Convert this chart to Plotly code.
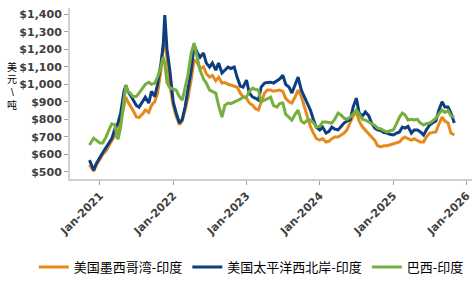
import plotly.graph_objects as go

dates = [
    "2020-11-10", "2020-12-01", "2020-12-15",
    "2021-01-01", "2021-01-15", "2021-02-01", "2021-02-15", "2021-03-01", "2021-03-15",
    "2021-04-01", "2021-04-15", "2021-05-01", "2021-05-10", "2021-05-20", "2021-06-01",
    "2021-06-15", "2021-07-01", "2021-07-15", "2021-08-01", "2021-08-15", "2021-09-01",
    "2021-09-15", "2021-10-01", "2021-10-15", "2021-11-01", "2021-11-12", "2021-11-20",
    "2021-12-01", "2021-12-15",
    "2022-01-01", "2022-01-15", "2022-02-01", "2022-02-15", "2022-03-01", "2022-03-15",
    "2022-04-01", "2022-04-15", "2022-05-01", "2022-05-15", "2022-06-01", "2022-06-15",
    "2022-07-01", "2022-07-15", "2022-08-01", "2022-08-15", "2022-09-01", "2022-09-15",
    "2022-10-01", "2022-10-15", "2022-11-01", "2022-11-15", "2022-12-01", "2022-12-15",
    "2023-01-01", "2023-01-15", "2023-02-01", "2023-02-15", "2023-03-01", "2023-03-15",
    "2023-04-01", "2023-04-15", "2023-05-01", "2023-05-15", "2023-06-01", "2023-06-15",
    "2023-07-01", "2023-07-15", "2023-08-01", "2023-08-15", "2023-09-01", "2023-09-15",
    "2023-10-01", "2023-10-15", "2023-11-01", "2023-11-15", "2023-12-01", "2023-12-15",
    "2024-01-01", "2024-01-15", "2024-02-01", "2024-02-15", "2024-03-01", "2024-03-15",
    "2024-04-01", "2024-04-15", "2024-05-01", "2024-05-15", "2024-06-01", "2024-06-15",
    "2024-07-01", "2024-07-15", "2024-08-01", "2024-08-15", "2024-09-01", "2024-09-15",
    "2024-10-01", "2024-10-15", "2024-11-01", "2024-11-15", "2024-12-01", "2024-12-15",
    "2025-01-01", "2025-01-15", "2025-02-01", "2025-02-15", "2025-03-01", "2025-03-15",
    "2025-04-01", "2025-04-15", "2025-05-01", "2025-05-15", "2025-06-01", "2025-06-15",
    "2025-07-01", "2025-07-15", "2025-08-01", "2025-08-15", "2025-09-01", "2025-09-15",
    "2025-10-01", "2025-10-15", "2025-11-01",
]

us_gulf_india = [
    540, 505, 540,
    570, 600, 620, 650, 680, 700,
    730, 790, 890, 927, 900, 880,
    850, 815, 810, 830, 853, 840,
    880, 900, 950, 1080, 1220, 1235,
    1150, 1000,
    880, 820, 770, 790, 850, 920,
    1030, 1140, 1121, 1090, 1100, 1060,
    1041, 1050, 1020, 1040, 1007, 1010,
    1000, 995, 990, 984, 950, 930,
    920, 893, 880, 860, 853, 900,
    950, 967, 967, 960, 965, 967,
    960, 920, 900, 893, 930, 967,
    930, 880, 813, 760, 720, 690,
    682, 690, 671, 675, 690, 700,
    700, 710, 722, 740, 779, 820,
    842, 790, 756, 740, 720, 700,
    680, 650, 643, 650, 650, 654,
    660, 665, 671, 690, 700, 690,
    682, 690, 680, 671, 671, 700,
    722, 725, 728, 770, 813, 790,
    779, 722, 711,
]

us_pnw_india = [
    568, 511, 550,
    585, 610, 640, 665, 690, 740,
    780, 840, 960, 995, 960, 940,
    910, 880, 870, 900, 927, 893,
    960, 930, 1000, 1120, 1220, 1395,
    1200, 1080,
    900, 840, 779, 800, 870, 967,
    1081, 1223, 1180, 1155, 1178, 1121,
    1098, 1121, 1081, 1121, 1064, 1080,
    1098, 1090, 1098, 1041, 990, 984,
    1024, 950, 927, 920, 910, 984,
    1007, 1010, 1012, 1007, 1020, 1030,
    1052, 1000, 984, 950, 1000, 1041,
    967, 930, 893, 853, 796, 755,
    740, 756, 722, 730, 756, 745,
    740, 760, 779, 790, 800, 870,
    921, 836, 820, 842, 820, 779,
    750, 740, 735, 725, 722, 715,
    711, 720, 728, 756, 750, 760,
    722, 740, 740, 730, 711, 740,
    768, 779, 790, 850, 900, 870,
    870, 836, 779,
]

brazil_india = [
    654, 693, 680,
    665, 665, 700, 740, 775, 770,
    685, 760, 930, 995, 960, 950,
    930, 930, 950, 980, 1000, 1012,
    1000, 1007, 1040, 1100, 1155, 1120,
    1010, 980,
    975, 967, 930, 910, 980, 1050,
    1180, 1235, 1150, 1080, 1030, 1007,
    967, 960, 950, 880, 813, 880,
    893, 890, 899, 905, 915, 927,
    927, 960, 978, 970, 967, 900,
    910, 920, 927, 880, 870, 890,
    893, 830, 813, 796, 830, 853,
    790, 779, 796, 796, 780, 756,
    760, 785, 785, 780, 779, 800,
    836, 825, 807, 800, 813, 830,
    853, 830, 800, 796, 785, 779,
    765, 750, 745, 735, 728, 735,
    740, 770, 813, 836, 825, 796,
    800, 796, 800, 780, 768, 775,
    779, 790, 807, 830, 853, 840,
    850, 820, 813,
]

series_names = ["美国墨西哥湾-印度", "美国太平洋西北岸-印度", "巴西-印度"]
series_colors = ["#E8891C", "#0D3F80", "#77AF3F"]
series_values = [us_gulf_india, us_pnw_india, brazil_india]
y_title_chars = ["美", "元", "\\", "吨"]

fig = go.Figure()
for name, color, vals in zip(series_names, series_colors, series_values):
    fig.add_trace(go.Scatter(
        x=dates, y=vals, name=name, mode="lines",
        line=dict(color=color, width=3),
    ))

tick_font = dict(family="DejaVu Sans", size=11, color="#404040", weight="bold")

# vertical (stacked, upright) y-axis title
title_anns = []
pitch = 12.5  # px between stacked characters
for i, ch in enumerate(y_title_chars):
    title_anns.append(dict(
        text=ch, showarrow=False,
        xref="paper", yref="paper", x=-0.144, y=0.544,
        xanchor="center", yanchor="middle",
        yshift=(1.5 - i) * pitch,
        font=dict(family="Liberation Sans, Noto Sans CJK SC", size=10, color="#000000"),
    ))

fig.update_layout(
    width=474, height=284,
    margin=dict(l=70, r=2, t=8, b=105),
    paper_bgcolor="white", plot_bgcolor="white",
    showlegend=True,
    legend=dict(
        orientation="h", xref="paper", x=-0.09, xanchor="left",
        yref="paper", y=-0.515, yanchor="middle",
        font=dict(family="Noto Sans CJK SC", size=13, color="#000000"),
        itemwidth=30, tracegroupgap=0,
    ),
    xaxis=dict(
        type="date", range=["2020-08-05", "2026-01-28"],
        dtick="M12", tick0="2021-01-01", tickformat="%b-%Y", tickangle=-45,
        showgrid=False, zeroline=False,
        showline=True, linecolor="#D0D0D0", linewidth=2,
        ticks="outside", ticklen=4, tickcolor="#A0A0A0",
        tickfont=tick_font,
    ),
    yaxis=dict(
        range=[460, 1435], dtick=100, tick0=500,
        tickprefix="$", tickformat=",",
        showgrid=False, zeroline=False,
        showline=True, linecolor="#D0D0D0", linewidth=2,
        ticks="outside", ticklen=4, tickcolor="#A0A0A0",
        tickfont=tick_font,
    ),
    annotations=title_anns,
)

fig.write_html("out.html")
